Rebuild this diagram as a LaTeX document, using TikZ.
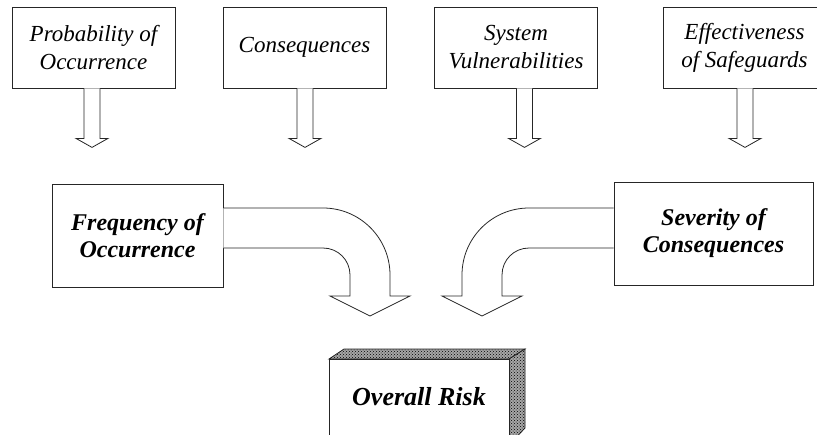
\documentclass[tikz,border=0pt]{standalone}
\usepackage{fontspec}
\setmainfont{Liberation Serif}
\newfontfamily\timesfont{Liberation Serif}
\usetikzlibrary{patterns,calc}

\tikzset{
  factor/.style={draw=black!85, line width=0.8pt, fill=white, rectangle,
    minimum width=163pt, minimum height=81pt, inner sep=0pt, align=center,
    font=\timesfont\fontsize{23}{28}\selectfont\itshape},
  measure/.style={draw=black!85, line width=0.8pt, fill=white, rectangle,
    minimum height=103pt, inner sep=0pt, align=center,
    font=\timesfont\fontsize{24}{27}\selectfont\bfseries\itshape},
  blockarrow/.style={draw=black!85, line width=0.8pt, fill=white, line join=miter},
  edge3d/.style={draw=black!85, line width=0.8pt, fill=black!35,
    postaction={pattern=crosshatch dots, pattern color=black}},
}

\begin{document}
\begin{tikzpicture}[x=1pt,y=-1pt]
  \useasboundingbox (0,0) rectangle (817,434);

  % input factors
  \node[factor] (prob) at (93.5,47.5)  {Probability of\\Occurrence};
  \node[factor] (cons) at (304.5,47.5) {Consequences};
  \node[factor] (vuln) at (516,47.5)   {System\\Vulnerabilities};
  \node[factor] (safe) at (744.5,47.5) {Effectiveness\\of Safeguards};

  % hollow down arrows under each factor
  \foreach \n/\dx in {prob/-1.5, cons/0.5, vuln/8.5, safe/0.5}{
    \draw[blockarrow, shift={($(\n.south)+(\dx,0)$)}]
      (-8,0) -- (-8,50) -- (-16,50) -- (0,59) -- (16,50) -- (8,50) -- (8,0);
  }

  % derived measures
  \node[measure, minimum width=171pt] (freq) at (137.5,235.5) {Frequency of\\Occurrence};
  \node[measure, minimum width=199pt] (sev)  at (713.5,233.5) {Severity of\\Consequences};

  % bent block arrows towards the overall risk
  \draw[blockarrow]
    (freq.east |- 0,208) -- (323,208)
      .. controls (360,208) and (390,238) .. (390,275)
      -- (390,296) -- (410,296) -- (370,316) -- (330,296) -- (350,296) -- (350,275)
      .. controls (350,260) and (338,248) .. (323,248)
      -- (freq.east |- 0,248);
  \draw[blockarrow]
    (sev.west |- 0,208) -- (529,208)
      .. controls (492,208) and (462,238) .. (462,275)
      -- (462,296) -- (442,296) -- (482,316) -- (522,296) -- (502,296) -- (502,275)
      .. controls (502,260) and (514,248) .. (529,248)
      -- (sev.west |- 0,248);

  % overall risk block with shaded depth faces
  \draw[edge3d] (329,359) -- (344,349) -- (525,349) -- (509,359) -- cycle;
  \draw[edge3d] (509,359) -- (525,349) -- (525,428) -- (509,445) -- cycle;
  \draw[draw=black!85, line width=0.8pt, fill=white] (329,445) -- (329,359) -- (509,359) -- (509,445);
  \node[font=\timesfont\fontsize{26}{30}\selectfont\bfseries\itshape, inner sep=0pt] (risk) at (419,397) {Overall Risk};
\end{tikzpicture}
\end{document}
